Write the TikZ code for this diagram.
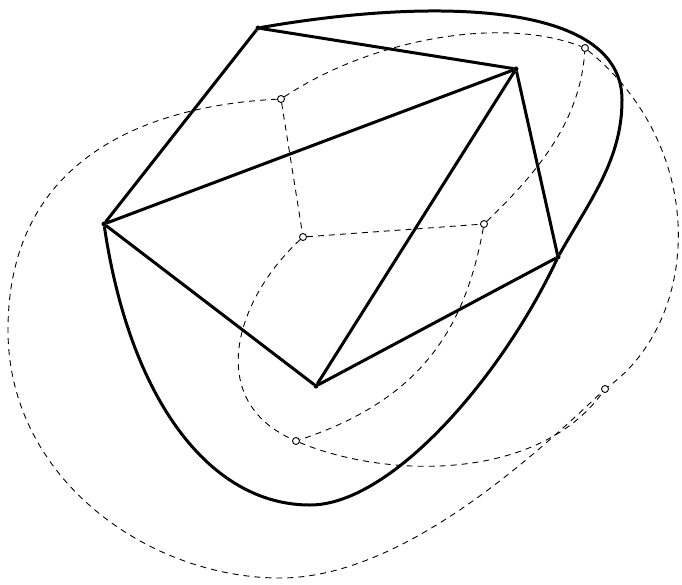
\documentclass[tikz,border=0pt]{standalone}
\begin{document}
\begin{tikzpicture}[x=1pt,y=-1pt,
  pv/.style={circle,fill=black,draw=black,inner sep=0pt,minimum size=4.5pt},
  dv/.style={circle,draw=black,line width=0.9pt,inner sep=0pt,minimum size=7pt},
  pe/.style={line width=3pt,line join=round},
  de/.style={line width=0.9pt,dash pattern=on 6pt off 5pt}]
\useasboundingbox (0,0) rectangle (682,584);
% primal vertices
\node[pv] (A) at (258,28) {};
\node[pv] (B) at (516,69) {};
\node[pv] (C) at (104,224) {};
\node[pv] (D) at (558,257) {};
\node[pv] (E) at (316,386) {};
\coordinate (P) at (622,100);
\coordinate (Q) at (310,505);
% dual vertices
\node[dv] (p1) at (281,99) {};
\node[dv] (p2) at (585,48) {};
\node[dv] (p3) at (303,237) {};
\node[dv] (p4) at (484,224) {};
\node[dv] (p5) at (296,441) {};
\node[dv] (p6) at (605,389) {};
\coordinate (L) at (8,330);
\coordinate (M) at (280,578);
% primal edges
\draw[pe] (A) -- (B);
\draw[pe] (A) -- (C);
\draw[pe] (C) -- (B);
\draw[pe] (B) -- (E);
\draw[pe] (B) -- (D);
\draw[pe] (D) -- (E);
\draw[pe] (C) -- (E);
\draw[pe] (A) .. controls (430,-2) and (622,0) .. (P)
              .. controls (622,160) and (590,200) .. (D);
\draw[pe] (C) .. controls (130,400) and (210,505) .. (Q)
              .. controls (390,505) and (500,380) .. (D);
% dual edges
\draw[de] (p1) -- (p3);
\draw[de] (p3) -- (p4);
\draw[de] (p1) .. controls (370,40) and (500,15) .. (p2);
\draw[de] (p1) .. controls (160,105) and (8,150) .. (L)
               .. controls (8,480) and (150,578) .. (M)
               .. controls (400,578) and (530,460) .. (p6);
\draw[de] (p2) .. controls (710,150) and (700,320) .. (p6);
\draw[de] (p4) .. controls (540,170) and (580,120) .. (p2);
\draw[de] (p4) .. controls (465,330) and (420,400) .. (p5);
\draw[de] (p5) .. controls (390,480) and (540,480) .. (p6);
\draw[de] (p3) .. controls (235,300) and (205,400) .. (p5);
\end{tikzpicture}
\end{document}
